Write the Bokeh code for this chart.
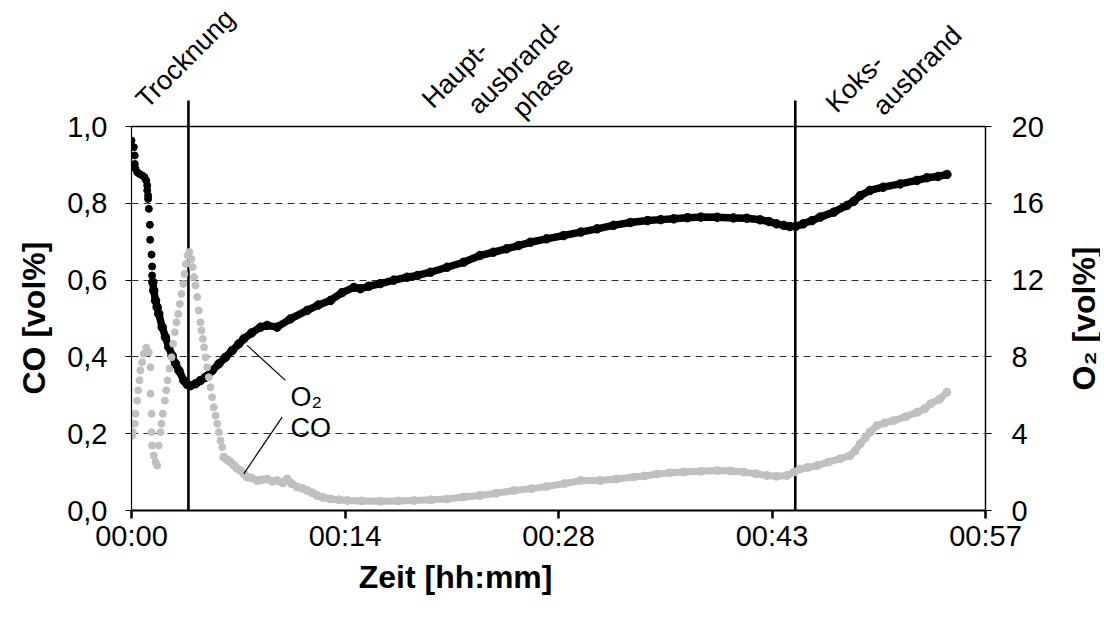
from bokeh.plotting import figure
from bokeh.layouts import row
from bokeh.models import Range1d, LinearAxis, FixedTicker, Label, Title, Span
from bokeh.embed import file_html
from bokeh.resources import INLINE

# ---------------- data (time in minutes) ----------------
o2_dot_t = [0.0, 0.16, 0.22, 0.22, 0.27, 0.38, 0.54, 0.72, 0.88, 0.99, 1.06, 1.06,
            1.12, 1.12, 1.17, 1.24, 1.26, 1.35, 1.39, 1.39]
o2_dot = [19.27, 18.92, 18.49, 18.05, 17.8, 17.62, 17.53, 17.45, 17.36, 17.19, 16.93, 16.67,
          16.4, 16.23, 15.71, 14.88, 14.1, 13.33, 12.71, 12.24]

o2_t = [1.44, 1.5, 1.62, 1.73, 1.84, 2.07, 2.29, 2.52, 2.74, 2.97, 3.2, 3.53, 3.76, 3.98, 4.32,
        4.65, 4.99, 5.44, 5.89, 6.34, 6.79, 7.24, 7.57, 8.1, 8.7, 9.15, 9.82, 10.72, 11.85, 12.6,
        13.42, 14.2, 15.0, 15.44, 16.0, 16.79, 17.7, 18.59, 19.3, 20.16, 21.29, 22.4, 23.5, 24.4,
        25.3, 26.1, 26.9, 28.0, 29.15, 30.3, 31.4, 32.5, 33.65, 34.8, 35.7, 36.57, 37.5, 38.4,
        39.5, 40.6, 41.5, 42.4, 43.0, 43.5, 44.0, 44.4, 44.8, 45.3, 45.9, 46.45, 47.36, 48.26,
        48.7, 49.15, 49.8, 50.7, 51.85, 52.97, 53.65, 54.4, 55.0]
o2 = [11.89, 11.46, 10.94, 10.59, 10.24, 9.55, 9.03, 8.5, 8.07, 7.64, 7.29, 6.77, 6.56, 6.5, 6.6,
      6.77, 6.94, 7.29, 7.64, 7.98, 8.33, 8.68, 8.94, 9.25, 9.55, 9.64, 9.55, 9.98, 10.42, 10.7,
      10.94, 11.35, 11.62, 11.55, 11.68, 11.82, 12.0, 12.15, 12.24, 12.41, 12.67, 12.93, 13.28, 13.45,
      13.63, 13.8, 13.97, 14.15, 14.32, 14.5, 14.67, 14.85, 15.0, 15.1, 15.15, 15.19, 15.25, 15.28,
      15.27, 15.24, 15.22, 15.14, 15.05, 14.93, 14.85, 14.79, 14.8, 14.93, 15.1, 15.28, 15.54, 15.89,
      16.1, 16.4, 16.67, 16.84, 17.01, 17.19, 17.33, 17.4, 17.5]

co_dot_t = [0.04, 0.09, 0.22, 0.27, 0.38, 0.45, 0.54, 0.6, 0.72, 0.83, 0.99, 1.17, 1.28, 1.28,
            1.35, 1.35, 1.39, 1.5, 1.62, 1.73, 1.84, 1.96, 2.02, 2.11, 2.25, 2.34, 2.43, 2.56,
            2.7, 2.81, 2.92, 3.03, 3.15, 3.26, 3.37, 3.49, 3.57, 3.66, 3.78, 3.91, 4.04, 4.13,
            4.22, 4.32, 4.43, 4.54, 4.65, 4.72, 4.81, 4.9, 4.99, 5.1, 5.21, 5.33, 5.44, 5.55,
            5.67, 5.78, 5.89, 6.0, 6.12]
co_dot = [0.195, 0.204, 0.226, 0.252, 0.286, 0.313, 0.339, 0.365, 0.386, 0.408, 0.424, 0.412,
          0.373, 0.304, 0.252, 0.204, 0.169, 0.143, 0.126, 0.117, 0.169, 0.204, 0.226, 0.252,
          0.286, 0.313, 0.339, 0.369, 0.399, 0.434, 0.464, 0.49, 0.512, 0.538, 0.564, 0.59,
          0.616, 0.642, 0.664, 0.673, 0.655, 0.634, 0.608, 0.586, 0.556, 0.521, 0.49, 0.469,
          0.447, 0.425, 0.399, 0.373, 0.347, 0.321, 0.295, 0.269, 0.247, 0.226, 0.204, 0.182,
          0.165]

co_t = [6.22, 6.45, 6.67, 6.9, 7.1, 7.35, 7.6, 7.8, 8.1, 8.47, 8.8, 9.15, 9.5, 9.82, 10.2, 10.5,
        10.8, 11.17, 11.5, 11.85, 12.2, 12.52, 12.9, 13.42, 14.0, 14.55, 15.5, 16.8, 18.0, 19.04,
        20.2, 21.29, 22.4, 23.5, 24.6, 25.8, 27.0, 28.0, 29.2, 30.3, 31.6, 32.7, 33.87, 34.6,
        35.45, 36.3, 37.25, 38.4, 39.5, 40.4, 41.3, 42.1, 42.86, 43.5, 44.2, 44.7, 45.1, 45.6,
        46.24, 47.0, 47.8, 48.46, 48.8, 49.15, 49.5, 49.8, 50.28, 50.8, 51.4, 52.2, 53.0, 53.5,
        53.9, 54.5, 55.0]
co = [0.139, 0.132, 0.126, 0.118, 0.11, 0.104, 0.095, 0.087, 0.085, 0.078, 0.08, 0.082, 0.076,
      0.078, 0.072, 0.082, 0.07, 0.061, 0.058, 0.052, 0.046, 0.039, 0.034, 0.030, 0.028, 0.026,
      0.025, 0.024, 0.025, 0.026, 0.028, 0.030, 0.035, 0.039, 0.045, 0.052, 0.057, 0.0625, 0.07,
      0.078, 0.078, 0.082, 0.087, 0.09, 0.095, 0.098, 0.100, 0.102, 0.104, 0.103, 0.100, 0.096,
      0.091, 0.089, 0.091, 0.1, 0.108, 0.112, 0.117, 0.126, 0.135, 0.143, 0.155, 0.174, 0.19,
      0.204, 0.221, 0.228, 0.234, 0.244, 0.256, 0.265, 0.278, 0.29, 0.308]

phase_x = [3.84, 44.77]
phase_top = 1.068

x_ticks = [0, 14.4, 28.8, 43.2, 57.6]
x_tick_labels = ["00:00", "00:14", "00:28", "00:43", "00:57"]
co_ticks = [0, 0.2, 0.4, 0.6, 0.8, 1]
co_tick_labels = ["0,0", "0,2", "0,4", "0,6", "0,8", "1,0"]
o2_ticks = [0, 4, 8, 12, 16, 20]
grid_ticks = [0.2, 0.4, 0.6, 0.8]

phase_text = ["Trocknung", "Haupt-", "ausbrand-", "phase", "Koks-", "ausbrand"]
phase_text_x = [0.61, 19.9, 23.0, 26.0, 47.13, 50.3]
phase_text_y = [1.060, 1.060, 1.045, 1.035, 1.049, 1.042]

series_text = ["O\u2082", "CO"]
series_text_x = [10.72, 10.72]
series_text_y = [0.296, 0.214]
leader_x0 = [7.8, 10.16]
leader_y0 = [0.43, 0.243]
leader_x1 = [10.38, 7.57]
leader_y1 = [0.339, 0.0956]

x_title = "Zeit [hh:mm]"
x_title_center = 21.8
co_title = "CO [vol%]"
o2_title = "O\u2082 [vol%]"

# ---------------- layout constants ----------------
FONT = "Liberation Sans"
LEFT = 131
FRAME_W = 854
RIGHT = 81
MAIN_W = LEFT + FRAME_W + RIGHT
PX_PER_UNIT = 384          # pixels per 1.0 CO
FRAME_H = 510              # frame reaches the top of the canvas (room for phase names)
BOTTOM = 94
SIDE_W = 34
MAIN_H = FRAME_H + BOTTOM
Y_TOP = FRAME_H / PX_PER_UNIT
X_TITLE_HALF_W = 96
CO_TITLE_HALF_L = 76

x_rng = Range1d(x_ticks[0], x_ticks[-1])
y_rng = Range1d(co_ticks[0], Y_TOP)

# ---------------- main figure ----------------
p = figure(width=MAIN_W, height=MAIN_H, x_range=x_rng, y_range=y_rng,
           output_backend="svg", toolbar_location=None, title=None,
           min_border_left=LEFT, min_border_right=RIGHT, min_border_top=0, min_border_bottom=BOTTOM)
p.outline_line_color = None
p.background_fill_color = "white"
p.border_fill_color = "white"
p.extra_y_ranges = {"o2": Range1d(o2_ticks[0], o2_ticks[-1] * Y_TOP / co_ticks[-1])}

p.xgrid.visible = False
p.ygrid.ticker = FixedTicker(ticks=grid_ticks)
p.ygrid.grid_line_color = "#333333"
p.ygrid.grid_line_dash = "7 5"
p.ygrid.grid_line_width = 1


def ov(ticks, labels):
    return {(int(t) if float(t).is_integer() else t): l for t, l in zip(ticks, labels)}


def style_axis(ax):
    ax.major_label_text_font = FONT
    ax.major_label_text_font_size = "29px"
    ax.major_label_text_color = "black"
    ax.minor_tick_line_color = None
    ax.major_tick_in = 0
    ax.axis_line_color = "black"
    ax.major_tick_line_color = "black"


xa = p.xaxis[0]
style_axis(xa)
xa.ticker = FixedTicker(ticks=x_ticks)
xa.major_label_overrides = ov(x_ticks, x_tick_labels)
xa.major_tick_out = 8
xa.major_tick_line_width = 2.5
xa.axis_line_width = 2
xa.major_label_standoff = 1

ya = p.yaxis[0]
style_axis(ya)
ya.ticker = FixedTicker(ticks=co_ticks)
ya.major_label_overrides = ov(co_ticks, co_tick_labels)
ya.bounds = (co_ticks[0], co_ticks[-1])
ya.major_tick_out = 6
ya.axis_line_width = 1.2
ya.major_label_standoff = 18

ra = LinearAxis(y_range_name="o2", ticker=FixedTicker(ticks=o2_ticks),
                bounds=(o2_ticks[0], o2_ticks[-1]))
style_axis(ra)
ra.major_tick_out = 6
ra.axis_line_width = 1.5
ra.major_label_standoff = 20
p.add_layout(ra, "right")

# axis titles (Title objects so they can be offset like in the original)
px_per_min = FRAME_W / (x_ticks[-1] - x_ticks[0])
x_title_offset = (x_title_center - x_ticks[0]) * px_per_min - X_TITLE_HALF_W
p.add_layout(Title(text=x_title, align="left", offset=x_title_offset, standoff=4,
                   text_font=FONT, text_font_size="32px", text_font_style="bold",
                   text_color="black"), "below")
co_title_offset = (co_ticks[-1] - co_ticks[0]) / 2 * PX_PER_UNIT - CO_TITLE_HALF_L
p.add_layout(Title(text=co_title, align="left", offset=co_title_offset, standoff=26,
                   text_font=FONT, text_font_size="32px", text_font_style="bold",
                   text_color="black"), "left")

# top frame line at CO = 1.0
p.add_layout(Span(location=co_ticks[-1], dimension="width", line_color="black", line_width=1.5))

# phase boundaries
p.segment(x0=phase_x, y0=[co_ticks[0]] * len(phase_x), x1=phase_x,
          y1=[phase_top] * len(phase_x), line_color="black", line_width=2.6)

# O2 (black)
p.line(o2_t, o2, y_range_name="o2", line_color="black", line_width=7.5,
       line_join="round", line_cap="round")
p.scatter(o2_t, o2, y_range_name="o2", size=8.5, color="black")
p.scatter(o2_dot_t, o2_dot, y_range_name="o2", size=7, color="black")

# CO (grey)
GREY = "#c0c0c0"
p.line(co_t, co, line_color=GREY, line_width=7, line_join="round", line_cap="round")
p.scatter(co_t, co, size=8, color=GREY)
p.scatter(co_dot_t, co_dot, size=7, color=GREY)

# leader lines + series labels
p.segment(x0=leader_x0, y0=leader_y0, x1=leader_x1, y1=leader_y1, line_color="black", line_width=1.2)
for txt, x, y in zip(series_text, series_text_x, series_text_y):
    p.add_layout(Label(x=x, y=y, text=txt, text_font=FONT, text_font_size="27px",
                       text_color="black", text_align="left", text_baseline="alphabetic"))

# phase names
for txt, x, y in zip(phase_text, phase_text_x, phase_text_y):
    p.add_layout(Label(x=x, y=y, text=txt, text_font=FONT, text_font_size="27px",
                       text_color="black", text_align="left", text_baseline="alphabetic",
                       angle=45, angle_units="deg"))

# ---------------- right strip (O2 axis title) ----------------
side = figure(width=SIDE_W, height=MAIN_H, x_range=Range1d(0, 1), y_range=y_rng,
              output_backend="svg", toolbar_location=None, title=None,
              x_axis_type=None, y_axis_type=None,
              min_border_left=0, min_border_right=0, min_border_top=0, min_border_bottom=BOTTOM)
side.outline_line_color = None
side.grid.visible = False
side.background_fill_color = "white"
side.border_fill_color = "white"
side.add_layout(Label(x=0.5, y=(co_ticks[0] + co_ticks[-1]) / 2, text=o2_title, text_font=FONT,
                      text_font_size="32px", text_font_style="bold", text_color="black",
                      text_align="center", text_baseline="middle", angle=90, angle_units="deg"))

layout = row(p, side)
open("out.html", "w").write(file_html(layout, INLINE))
